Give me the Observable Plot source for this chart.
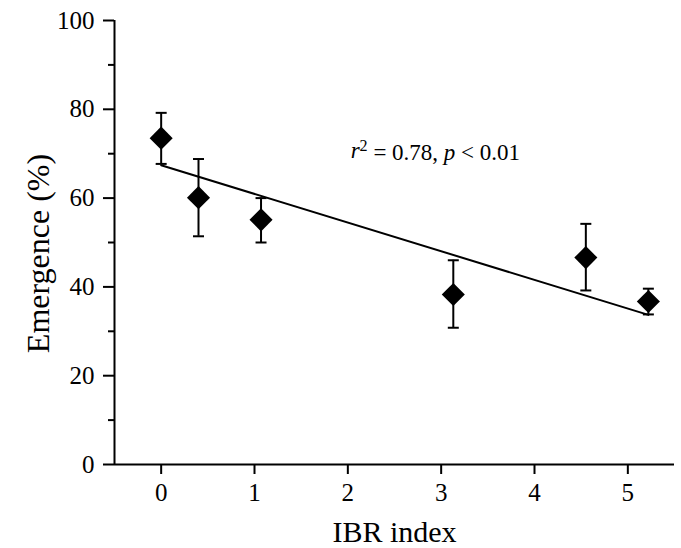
<!DOCTYPE html>
<html>
<head>
<meta charset="utf-8">
<script src="https://cdn.jsdelivr.net/npm/d3@7"></script>
<script src="https://cdn.jsdelivr.net/npm/@observablehq/plot@0.6"></script>
<style>
  html, body { margin: 0; padding: 0; background: #fff; }
  #chart svg, #chart svg text { font-family: "Liberation Serif", Tinos, "Times New Roman", serif !important; }
</style>
</head>
<body>
<div id="chart"></div>
<script>
// Data
const ibr       = [0.00, 0.40, 1.07, 3.13, 4.55, 5.22];
const emergence = [73.5, 60.1, 55.1, 38.3, 46.6, 36.7];
const errHigh   = [79.2, 68.8, 60.0, 46.0, 54.2, 39.6];
const errLow    = [67.7, 51.4, 50.0, 30.8, 39.2, 33.8];

// Regression line endpoints
const fitX = [0, 5.22];
const fitY = [67.4, 33.7];

// Ticks
const xTicks = [0, 1, 2, 3, 4, 5];
const yTicks = [0, 20, 40, 60, 80, 100];
const yMinor = [10, 30, 50, 70, 90];

const annotation = {x: 2.03, y: 69.1, text: "r2 = 0.78, p < 0.01"};

const points = ibr.map((x, i) => ({x, y: emergence[i], lo: errLow[i], hi: errHigh[i]}));
const fit = fitX.map((x, i) => ({x, y: fitY[i]}));

const capSymbol = {
  draw(context, size) {
    const w = Math.sqrt(size / Math.PI);
    context.moveTo(-w, 0);
    context.lineTo(w, 0);
  }
};

const chart = Plot.plot({
  width: 681,
  height: 548,
  marginLeft: 114,
  marginRight: 7,
  marginTop: 20,
  marginBottom: 84,
  style: {fontSize: "25px", color: "#000", background: "#fff"},
  x: {domain: [-0.5, 5.5]},
  y: {domain: [0, 100]},
  marks: [
    Plot.axisX({ticks: xTicks, tickSize: 10, tickPadding: 9, strokeWidth: 2, label: null, fontSize: 25, fill: "#000", tickFormat: d => d}),
    Plot.axisY({ticks: yTicks, tickSize: 11, tickPadding: 9, strokeWidth: 2, label: null, fontSize: 25, fill: "#000", tickFormat: d => d}),
    Plot.axisY({ticks: yMinor, tickSize: 6, strokeWidth: 2, text: null, label: null}),
    Plot.ruleX([-0.5], {stroke: "#000", strokeWidth: 2}),
    Plot.ruleY([0], {stroke: "#000", strokeWidth: 2}),
    Plot.line(fit, {x: "x", y: "y", stroke: "#000", strokeWidth: 2}),
    Plot.ruleX(points, {x: "x", y1: "lo", y2: "hi", stroke: "#000", strokeWidth: 2}),
    Plot.dot(points, {x: "x", y: "hi", symbol: capSymbol, r: 5.5, stroke: "#000", strokeWidth: 2, fill: "none"}),
    Plot.dot(points, {x: "x", y: "lo", symbol: capSymbol, r: 5.5, stroke: "#000", strokeWidth: 2, fill: "none"}),
    Plot.dot(points, {x: "x", y: "y", symbol: "diamond2", r: 10.4, fill: "#000", stroke: "none"}),
    Plot.text([annotation], {x: "x", y: "y", text: "text", textAnchor: "start", lineAnchor: "bottom", fontSize: 23, fill: "#000", className: "annot"}),
    Plot.text(["IBR index"], {frameAnchor: "bottom", dy: 77, lineAnchor: "bottom", textAnchor: "middle", fontSize: 30, fill: "#000"}),
    Plot.text(["Emergence (%)"], {frameAnchor: "left", dx: -66, dy: 11, rotate: -90, lineAnchor: "bottom", textAnchor: "middle", fontSize: 32, fill: "#000"})
  ]
});

// Rich formatting of the annotation: italic r and p, superscript 2
d3.select(chart).selectAll("g.annot text").each(function() {
  const t = d3.select(this);
  t.text(null);
  t.append("tspan").attr("font-style", "italic").text("r");
  t.append("tspan").attr("font-size", "70%").attr("dy", "-0.4em").text("2");
  t.append("tspan").attr("dy", "0.4em").text(" = 0.78, ");
  t.append("tspan").attr("font-style", "italic").text("p");
  t.append("tspan").text(" < 0.01");
});

document.getElementById("chart").append(chart);
</script>
</body>
</html>
